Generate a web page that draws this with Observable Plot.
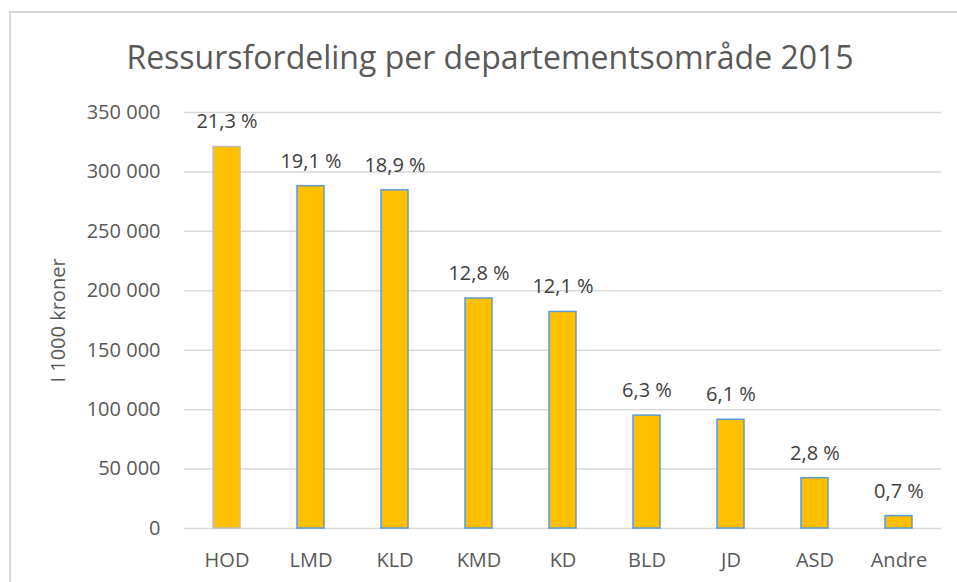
<!DOCTYPE html>
<html>
<head>
<meta charset="utf-8">
<script src="https://cdn.jsdelivr.net/npm/d3@7"></script>
<script src="https://cdn.jsdelivr.net/npm/@observablehq/plot@0.6"></script>
<style>
  body { margin: 0; background: #fff; font-family: "Open Sans", sans-serif; }
  #frame { position: absolute; left: 9px; top: 11px; width: 1200px; height: 800px;
           border-left: 2px solid #d9d9d9; border-top: 2px solid #d9d9d9; }
  #title { position: absolute; left: 0; width: 980px; top: 41px; text-align: center;
           font-size: 32px; color: #595959; white-space: nowrap; line-height: 1; }
  #chart { position: absolute; left: 0; top: 0; }
</style>
</head>
<body>
<div id="frame"></div>
<div id="title">Ressursfordeling per departementsområde 2015</div>
<div id="chart"></div>
<script>
const departments = ["HOD", "LMD", "KLD", "KMD", "KD", "BLD", "JD", "ASD", "Andre"];
const amounts = [321000, 288000, 284500, 193500, 182200, 95000, 91500, 42300, 10400];
const shares = [21.3, 19.1, 18.9, 12.8, 12.1, 6.3, 6.1, 2.8, 0.7];
const yTicks = [0, 50000, 100000, 150000, 200000, 250000, 300000, 350000];

const data = departments.map((d, i) => ({dept: d, value: amounts[i], share: shares[i]}));
const fmtNum = v => d3.format(",")(v).replace(/,/g, " ");
const fmtPct = v => v.toFixed(1).replace(".", ",") + " %";

const chart = Plot.plot({
  width: 957,
  height: 582,
  marginTop: 112,
  marginBottom: 54,
  marginLeft: 184,
  marginRight: 16,
  style: {fontFamily: "Open Sans, sans-serif", background: "transparent"},
  x: {domain: departments, paddingInner: 0.68, paddingOuter: 0.34, label: null},
  y: {domain: [0, 350000], label: null},
  marks: [
    Plot.gridY(yTicks, {stroke: "#d9d9d9", strokeOpacity: 1, strokeWidth: 1.5}),
    Plot.barY(data, {
      x: "dept", y: "value", fill: "#FFC000",
      stroke: d => d.dept === "HOD" ? "#bfbfbf" : "#5b9bd5",
      strokeWidth: 1.5, inset: 0
    }),
    Plot.text(data, {
      x: "dept", y: "value", text: d => fmtPct(d.share),
      dy: -25, lineAnchor: "middle", fill: "#404040", fontSize: 20
    }),
    Plot.axisX({tickSize: 0, tickPadding: 24, fontSize: 20, color: "#595959", label: null}),
    Plot.axisY(yTicks, {tickSize: 0, tickPadding: 24, fontSize: 20, color: "#595959",
      tickFormat: fmtNum, label: null}),
    Plot.text(["I 1000 kroner"], {
      frameAnchor: "left", dx: -126, rotate: -90, fontSize: 20, fill: "#595959",
      textAnchor: "middle", lineAnchor: "middle"
    })
  ]
});
document.getElementById("chart").appendChild(chart);
</script>
</body>
</html>
